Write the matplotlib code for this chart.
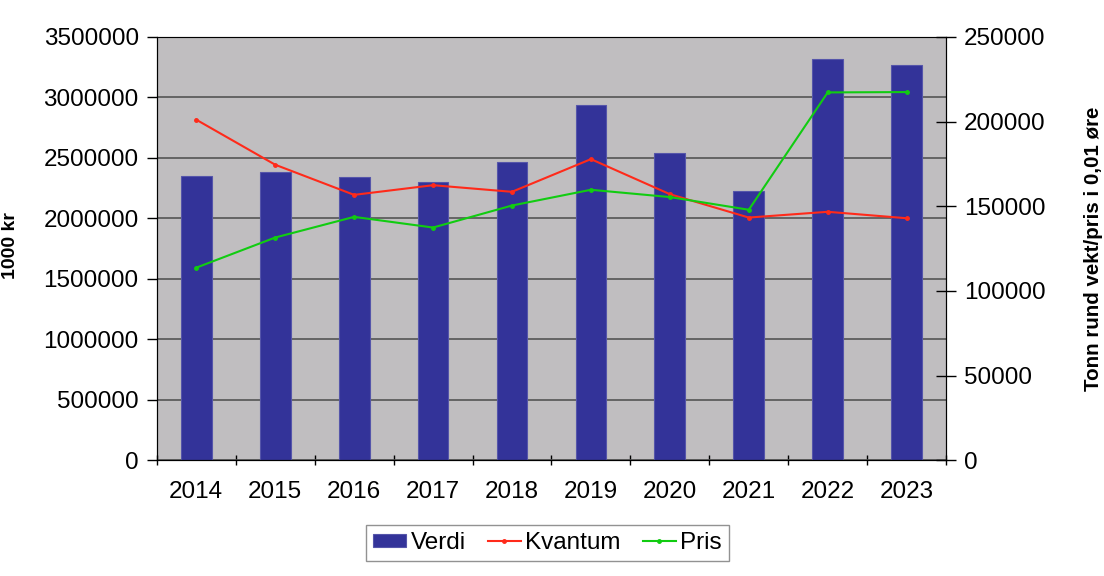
import numpy as np
import matplotlib.pyplot as plt

plt.rcParams['font.family'] = ['Liberation Sans', 'DejaVu Sans']

years = ['2014', '2015', '2016', '2017', '2018', '2019', '2020', '2021', '2022', '2023']
verdi = [2346000, 2385000, 2338000, 2302000, 2465000, 2939000, 2542000, 2222000, 3320000, 3271000]
kvantum = [201100, 174500, 156700, 162400, 158500, 177800, 157100, 143300, 146700, 142900]
pris = [113700, 131500, 143700, 137400, 150400, 159700, 155400, 147900, 217200, 217400]

Font_Size = 17.5
x = np.arange(len(years))

fig = plt.figure(figsize=(11.04, 5.76), dpi=100)
ax = fig.add_axes([0.142, 0.201, 0.715, 0.735])
ax.set_facecolor('#c0bec0')
ax.set_axisbelow(True)
ax.yaxis.grid(True, color='#555555', linewidth=1.2)

b = ax.bar(x, verdi, width=0.39, color='#333399', edgecolor='#5555aa', linewidth=0.8, label='Verdi', zorder=2)
ax.set_xlim(-0.5, len(years) - 0.5)
ax.set_ylim(0, 3500000)
ax.set_yticks(np.arange(0, 3500001, 500000))
ax.set_yticklabels([str(v) for v in range(0, 3500001, 500000)], fontsize=Font_Size)
ax.set_xticks(x)
ax.set_xticklabels(years, fontsize=Font_Size)
ax.set_xticks(np.arange(-0.5, len(years), 1), minor=True)
ax.tick_params(axis='x', which='major', length=0, pad=15)
ax.tick_params(axis='x', which='minor', length=7, direction='inout', width=1)
ax.tick_params(axis='y', length=7, width=1, pad=6)
ax.set_ylabel('1000 kr', fontsize=14, fontweight='bold')
ax.yaxis.set_label_coords(-0.174, 0.506)
ax.spines['top'].set_color('#888888')
for s in ['left', 'bottom', 'right']:
    ax.spines[s].set_color('black')

ax2 = ax.twinx()
l1, = ax2.plot(x, kvantum, '.-', color='#ff2a1a', linewidth=1.5, markersize=5, label='Kvantum', zorder=3)
l2, = ax2.plot(x, pris, '.-', color='#11cc11', linewidth=1.5, markersize=5, label='Pris', zorder=3)
ax2.set_ylim(0, 250000)
ax2.set_yticks(np.arange(0, 250001, 50000))
ax2.set_yticklabels([str(v) for v in range(0, 250001, 50000)], fontsize=Font_Size)
ax2.tick_params(axis='y', length=14, direction='inout', width=1, pad=6)
ax2.set_ylabel('Tonn rund vekt/pris i 0,01 øre', fontsize=14.8, fontweight='bold')
ax2.yaxis.set_label_coords(1.175, 0.5)

leg = fig.legend(handles=[b, l1, l2], loc='center', bbox_to_anchor=(0.496, 0.057), ncol=3,
                 fontsize=Font_Size, frameon=True, fancybox=False, edgecolor='#777777',
                 handlelength=1.35, handleheight=0.5, handletextpad=0.2, columnspacing=0.9,
                 borderpad=0.3, borderaxespad=0)
leg.get_frame().set_linewidth(1)

plt.savefig('out.png', dpi=100)
